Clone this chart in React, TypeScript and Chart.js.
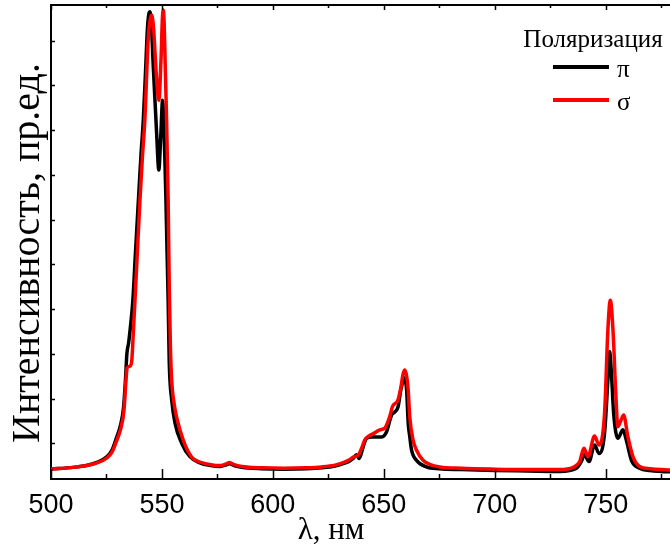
import React, { useEffect, useRef } from "react";
import { Chart, registerables } from "chart.js";

Chart.register(...registerables);

const piWavelength = [
  500, 510, 516, 520.7, 525, 527.5, 529.5, 531.3, 532.7, 533.6, 534.2, 535.0, 536.0, 536.9, 538.0, 539.4,
  540.5, 541.6, 542.6, 543.5, 544.1, 544.6, 545.2, 546.1, 547.6, 548.6, 549.5, 550.3, 550.8, 551.3, 551.8,
  552.3, 552.8, 553.3, 554.4, 555.9, 558.9, 562.6, 567.1, 572, 576, 578.5, 580.5, 582.5, 586, 595, 605, 615,
  622, 628, 632, 634.5, 636.2, 637.7, 638.9, 640.7, 642.2, 644.5, 649.0, 651.2, 653.5, 655.0, 656.4, 657.7,
  658.7, 659.2, 659.8, 660.3, 661.0, 661.7, 662.5, 664.7, 669.2, 675, 685, 700, 715, 729.3, 736.8, 739.0,
  740.5, 742.5, 745.0, 747.0, 749.5, 751.0, 751.8, 752.6, 753.6, 755.5, 757.8, 759.3, 761.6, 765.3, 770, 775, 780,
];
const piIntensity = [
  0.042, 0.046, 0.05, 0.057, 0.069, 0.085, 0.112, 0.14, 0.18, 0.245, 0.3, 0.325, 0.37, 0.42, 0.52, 0.644,
  0.74, 0.823, 0.93, 1.03, 1.06, 1.065, 1.04, 0.942, 0.794, 0.711, 0.79, 0.867, 0.82, 0.74, 0.644,
  0.53, 0.42, 0.28, 0.197, 0.145, 0.1, 0.07, 0.056, 0.05, 0.048, 0.051, 0.054, 0.05, 0.046, 0.043, 0.042, 0.043,
  0.045, 0.049, 0.055, 0.06, 0.066, 0.074, 0.066, 0.092, 0.111, 0.114, 0.114, 0.125, 0.163, 0.17, 0.181, 0.22,
  0.24, 0.246, 0.238, 0.219, 0.145, 0.115, 0.085, 0.062, 0.047, 0.043, 0.041, 0.039, 0.038, 0.037, 0.044, 0.059,
  0.074, 0.059, 0.096, 0.077, 0.122, 0.241, 0.305, 0.256, 0.167, 0.111, 0.13, 0.107, 0.062, 0.044, 0.039, 0.037, 0.036,
];

const sigmaWavelength = [
  500, 510, 516, 520.7, 525.2, 527.5, 529.7, 531.5, 532.9, 533.8, 534.3, 535.4, 536.3, 537.1, 538.6, 540.1,
  541.2, 542.3, 543.8, 544.6, 545.4, 546.2, 547.4, 548.6, 549.6, 550.2, 550.6, 551.0, 551.5, 552.1, 552.8,
  553.3, 553.8, 554.4, 555.3, 556.6, 559.6, 563.4, 567.1, 572, 576, 578.5, 580.5, 582.5, 586, 595, 605, 615,
  622, 628, 632, 634.5, 636.2, 638.4, 640.1, 641.4, 642.9, 645.5, 648.2, 650.5, 652.7, 653.9, 656.4, 657.7,
  658.7, 659.5, 660.3, 661.0, 661.7, 663.2, 664.7, 667.7, 670.7, 675.2, 685, 700, 715, 729.3, 735.3, 738.3,
  740.2, 742.0, 745.0, 747.0, 749.5, 751.0, 752.1, 753.3, 754.5, 755.5, 756.8, 758.1, 760.0, 762.3, 765.3, 770, 775, 780,
];
const sigmaIntensity = [
  0.042, 0.046, 0.05, 0.056, 0.067, 0.08, 0.107, 0.134, 0.174, 0.241, 0.268, 0.272, 0.28, 0.346, 0.494, 0.644,
  0.74, 0.823, 1.002, 1.045, 1.057, 1.03, 0.93, 0.867, 0.96, 1.05, 1.069, 1.04, 0.94, 0.823, 0.644,
  0.45, 0.32, 0.24, 0.195, 0.159, 0.107, 0.069, 0.058, 0.052, 0.05, 0.053, 0.057, 0.052, 0.048, 0.045, 0.044, 0.045,
  0.047, 0.051, 0.057, 0.063, 0.069, 0.073, 0.09, 0.107, 0.115, 0.122, 0.13, 0.134, 0.16, 0.182, 0.197, 0.225,
  0.255, 0.264, 0.25, 0.219, 0.159, 0.107, 0.085, 0.062, 0.053, 0.047, 0.044, 0.042, 0.041, 0.041, 0.046, 0.059,
  0.089, 0.07, 0.116, 0.096, 0.167, 0.353, 0.42, 0.353, 0.219, 0.137, 0.15, 0.163, 0.115, 0.07, 0.048, 0.043, 0.041, 0.04,
];

const seriesLabels = ["π", "σ"];
const seriesColors = ["#000000", "#ff0000"];
const xTickValues = [500, 525, 550, 575, 600, 625, 650, 675, 700, 725, 750, 775];
const yTickValues = [0.1, 0.2, 0.3, 0.4, 0.5, 0.6, 0.7, 0.8, 0.9, 1.0];
const legendTitle = "Поляризация";
const xTitle = "λ, нм";
const yTitle = "Интенсивность, пр.ед.";

const X_MIN = 500;
const X_MAX = 779;
const Y_MIN = 0.02;
const Y_MAX = 1.08;

const decorPlugin = {
  id: "decor",
  afterDatasetsDraw(chart: any) {
    const { ctx, chartArea: a, scales } = chart;
    const xs = scales.x;
    const ys = scales.y;
    ctx.save();
    ctx.strokeStyle = "#000";
    ctx.lineWidth = 2;
    ctx.beginPath();
    ctx.moveTo(a.left, a.top);
    ctx.lineTo(a.right + 2, a.top);
    ctx.stroke();

    ctx.lineWidth = 1.5;
    xs.ticks.forEach((t: any) => {
      const px = Math.round(xs.getPixelForValue(t.value)) + 0.5;
      const major = t.value % 50 === 0;
      const lb = major ? 10 : 5;
      const lt = major ? 5 : 3;
      ctx.beginPath();
      ctx.moveTo(px, a.bottom);
      ctx.lineTo(px, a.bottom - lb);
      ctx.moveTo(px, a.top);
      ctx.lineTo(px, a.top + lt);
      ctx.stroke();
    });
    ys.ticks.forEach((t: any) => {
      const py = Math.round(ys.getPixelForValue(t.value)) + 0.5;
      ctx.beginPath();
      ctx.moveTo(a.left, py);
      ctx.lineTo(a.left + 4, py);
      ctx.stroke();
    });

    ctx.fillStyle = "#000";
    ctx.font = '31px "Liberation Serif"';
    ctx.textAlign = "center";
    ctx.textBaseline = "alphabetic";
    ctx.fillText(xTitle, 331, 539);

    ctx.save();
    ctx.translate(39, 253);
    ctx.rotate(-Math.PI / 2);
    ctx.font = '40px "Liberation Serif"';
    ctx.textAlign = "center";
    ctx.fillText(yTitle, 0, 0);
    ctx.restore();

    ctx.font = '25px "Liberation Serif"';
    ctx.textAlign = "center";
    ctx.fillText(legendTitle, 593, 47);
    chart.data.datasets.forEach((ds: any, i: number) => {
      const ly = 67 + i * 33;
      ctx.strokeStyle = ds.borderColor;
      ctx.lineWidth = 4;
      ctx.beginPath();
      ctx.moveTo(553, ly);
      ctx.lineTo(609, ly);
      ctx.stroke();
      ctx.textAlign = "left";
      ctx.fillText(ds.label, 617, ly + 10);
    });
    ctx.restore();
  },
};

export default function App() {
  const ref = useRef<HTMLCanvasElement | null>(null);
  useEffect(() => {
    if (!ref.current) return;
    const chart = new Chart(ref.current, {
      type: "line",
      data: {
        datasets: [
          {
            label: seriesLabels[0],
            data: piWavelength.map((x, i) => ({ x, y: piIntensity[i] })),
            borderColor: seriesColors[0],
            backgroundColor: seriesColors[0],
            borderWidth: 3.5,
            pointRadius: 0,
            cubicInterpolationMode: "monotone",
            order: 2,
          },
          {
            label: seriesLabels[1],
            data: sigmaWavelength.map((x, i) => ({ x, y: sigmaIntensity[i] })),
            borderColor: seriesColors[1],
            backgroundColor: seriesColors[1],
            borderWidth: 3.5,
            pointRadius: 0,
            cubicInterpolationMode: "monotone",
            order: 1,
          },
        ],
      },
      options: {
        animation: false,
        responsive: false,
        devicePixelRatio: 1,
        layout: { padding: { left: 51, top: 5, right: 0, bottom: 0 } },
        plugins: { legend: { display: false }, tooltip: { enabled: false } },
        scales: {
          x: {
            type: "linear",
            min: X_MIN,
            max: X_MAX,
            grid: { display: false },
            border: { display: true, color: "#000", width: 2 },
            afterBuildTicks: (s: any) => {
              s.ticks = xTickValues.map((v) => ({ value: v }));
            },
            afterFit: (s: any) => {
              s.height = 67;
            },
            ticks: {
              autoSkip: false,
              maxRotation: 0,
              minRotation: 0,
              padding: 2,
              color: "#000",
              font: { family: '"Liberation Sans"', size: 27 },
              callback: (v: any) => (Number(v) % 50 === 0 ? String(v) : ""),
            },
          },
          y: {
            type: "linear",
            min: Y_MIN,
            max: Y_MAX,
            grid: { display: false },
            border: { display: true, color: "#000", width: 2 },
            afterBuildTicks: (s: any) => {
              s.ticks = yTickValues.map((v) => ({ value: v }));
            },
            afterFit: (s: any) => {
              s.width = 0;
            },
            ticks: { display: false },
          },
        },
      },
      plugins: [decorPlugin],
    });
    return () => chart.destroy();
  }, []);
  return (
    <div style={{ position: "fixed", left: 0, top: 0, width: 670, height: 546, background: "#fff" }}>
      <canvas ref={ref} width={670} height={546} style={{ display: "block" }} />
    </div>
  );
}
